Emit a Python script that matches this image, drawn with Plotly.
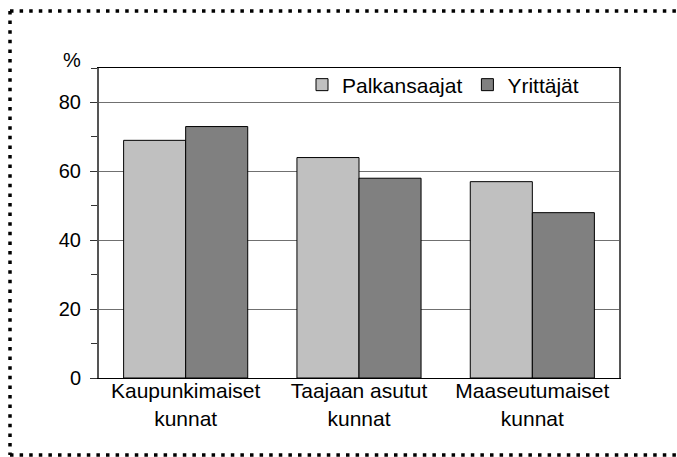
import plotly.graph_objects as go

categories = ["Kaupunkimaiset<br>kunnat", "Taajaan asutut<br>kunnat", "Maaseutumaiset<br>kunnat"]
series_names = ["Palkansaajat", "Yrittäjät"]
palkansaajat = [69, 64, 57]
yrittajat = [73, 58, 48]
y_tick_vals = [0, 20, 40, 60, 80]
y_tick_text = ["0", "20", "40", "60", "80"]

FONT = "Liberation Sans, Arial, sans-serif"

fig = go.Figure()
fig.add_trace(go.Bar(x=categories, y=palkansaajat, name=series_names[0],
                     marker=dict(color="#C0C0C0", line=dict(color="black", width=1))))
fig.add_trace(go.Bar(x=categories, y=yrittajat, name=series_names[1],
                     marker=dict(color="#808080", line=dict(color="black", width=1))))

W, H = 677, 457
L, R, T, B = 99, 58, 68, 79
pw, ph = W - L - R, H - T - B

def px_x(p):
    return (p - L) / pw

def px_y(p):
    return 1 - (p - T) / ph

fig.update_layout(
    width=W, height=H,
    margin=dict(l=L, r=R, t=T, b=B, pad=0),
    paper_bgcolor="white", plot_bgcolor="white",
    font=dict(family=FONT, size=20, color="black"),
    barmode="group", bargap=0.284, bargroupgap=0,
    showlegend=True,
    legend=dict(orientation="h", xanchor="right", yanchor="middle",
                x=px_x(584), y=px_y(85), font=dict(size=21),
                bgcolor="rgba(0,0,0,0)", traceorder="normal"),
    xaxis=dict(showline=True, linecolor="black", linewidth=1, mirror=True,
               ticks="", showgrid=False, tickfont=dict(size=21),
               ticklabelstandoff=-6),
    yaxis=dict(range=[0, 90], tickvals=y_tick_vals, ticktext=y_tick_text,
               showline=True, linecolor="#555555", linewidth=2, mirror=True,
               ticks="outside", ticklen=7, tickcolor="#333333", tickwidth=1,
               showgrid=True, gridcolor="#707070", gridwidth=1,
               zeroline=False, ticklabelstandoff=5,
               minor=dict(ticks="outside", dtick=10, tick0=0, ticklen=6,
                          tickcolor="#333333", showgrid=False)),
)

fig.add_annotation(text="%", xref="paper", yref="paper", x=px_x(72), y=px_y(60),
                   xanchor="center", yanchor="middle", showarrow=False,
                   font=dict(size=20, family=FONT))

dot = dict(color="black", width=3.5, dash="3.5px,6.1px")
xl, xr = px_x(10), px_x(690)
yt, yb = px_y(11), px_y(455)
fig.add_shape(type="line", xref="paper", yref="paper", x0=xl, x1=xr, y0=yt, y1=yt, line=dot)
fig.add_shape(type="line", xref="paper", yref="paper", x0=xl, x1=xl, y0=yt, y1=yb, line=dot)
fig.add_shape(type="line", xref="paper", yref="paper", x0=xl, x1=xr, y0=yb, y1=yb, line=dot)

fig.write_html("out.html", config={"displayModeBar": False},
               post_script="document.body.style.margin='0';document.body.style.overflow='hidden';")
